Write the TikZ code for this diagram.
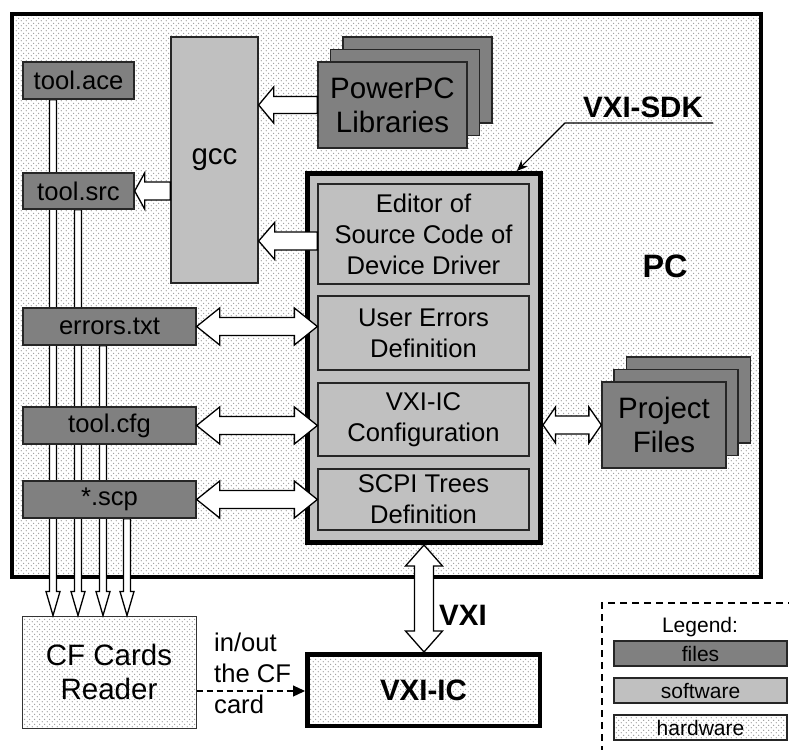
\documentclass[tikz,border=0pt]{standalone}
\usepackage{fontspec}
\setmainfont{Liberation Sans}
\usetikzlibrary{calc,patterns.meta,arrows.meta}

\definecolor{filegray}{HTML}{808080}
\definecolor{softgray}{HTML}{C0C0C0}
\definecolor{dotgray}{HTML}{9A9A9A}

% staggered dot raster used for hardware blocks
\tikzdeclarepattern{
  name=hwdots,
  type=uncolored,
  bounding box={(0pt,0pt) and (5.4pt,5.4pt)},
  tile size={(5.4pt,5.4pt)},
  code={
    \fill (1.35pt,1.35pt) circle (0.75pt);
    \fill (4.05pt,4.05pt) circle (0.75pt);
  }
}

\newcommand\fntbig{\fontsize{29.5pt}{34pt}\selectfont}
\newcommand\fntmid{\fontsize{25.6pt}{31pt}\selectfont}
\newcommand\fntsmall{\fontsize{21pt}{25pt}\selectfont}

% hollow block arrow: from, to, head length, head half width, shaft half width
\newcommand\onearrow[5]{%
  \coordinate (hb) at ($(#2)!#3!(#1)$);
  \draw[hollow] ($(#1)!#5!90:(#2)$) -- ($(hb)!#5!-90:(#1)$) -- ($(hb)!#4!-90:(#1)$)
    -- (#2) -- ($(hb)!#4!90:(#1)$) -- ($(hb)!#5!90:(#1)$) -- ($(#1)!#5!-90:(#2)$) -- cycle;
}
% hollow double-headed block arrow, same arguments
\newcommand\twoarrow[5]{%
  \coordinate (ha) at ($(#1)!#3!(#2)$);
  \coordinate (hb) at ($(#2)!#3!(#1)$);
  \draw[hollow] (#1) -- ($(ha)!#4!90:(#2)$) -- ($(ha)!#5!90:(#2)$) -- ($(hb)!#5!-90:(#1)$)
    -- ($(hb)!#4!-90:(#1)$) -- (#2) -- ($(hb)!#4!90:(#1)$) -- ($(hb)!#5!90:(#1)$)
    -- ($(ha)!#5!-90:(#2)$) -- ($(ha)!#4!-90:(#2)$) -- cycle;
}

\pgfdeclarelayer{back}
\pgfdeclarelayer{mid}
\pgfsetlayers{back,mid,main}

\begin{document}
\begin{tikzpicture}[x=1pt,y=-1pt,
  every node/.style={inner sep=0pt, align=center},
  hw/.style={preaction={fill=white}, pattern=hwdots, pattern color=dotgray},
  filebox/.style={draw=black!85, line width=1.3pt, fill=filegray, font=\fntmid},
  softbox/.style={draw=black!85, line width=1.3pt, fill=softgray},
  hollow/.style={draw=black, fill=white, line width=1.3pt, line join=miter},
  pipe/.style={hollow, line width=1.2pt}
]
\useasboundingbox (0,0) rectangle (789,749);

\begin{pgfonlayer}{back}
  % the PC enclosure
  \node[hw, draw=black, line width=4pt, minimum width=749pt, minimum height=563pt] (pc) at (386.5,295.5) {};
  % CF card reader
  \node[hw, draw=black!80, line width=1pt, minimum width=174pt, minimum height=112pt, font=\fntbig] (cf) at (109,672) {CF Cards\\Reader};
  % target board
  \node[hw, draw=black, line width=4.5pt, minimum width=232.5pt, minimum height=71.5pt, font=\fntbig\bfseries] (vxiic) at (423.5,690) {VXI-IC};
  % legend frame
  \node[draw=black, line width=1.2pt, dash pattern=on 7pt off 5pt, minimum width=198pt, minimum height=157pt] (legend) at (701,681.5) {};
\end{pgfonlayer}

% file boxes
\node[filebox, minimum width=111pt, minimum height=37pt] (ace) at (78.5,80.5) {tool.ace};
\node[filebox, minimum width=111pt, minimum height=36pt] (src) at (78.5,191) {tool.src};
\node[filebox, minimum width=173pt, minimum height=37pt] (errors) at (109.5,326.5) {errors.txt};
\node[filebox, minimum width=173pt, minimum height=37pt] (cfg) at (109.5,425.5) {tool.cfg};
\node[filebox, minimum width=173pt, minimum height=37pt] (scp) at (109.5,499.5) {*.scp};

% compiler
\node[softbox, minimum width=87pt, minimum height=246pt, font=\fntbig] (gcc) at (214.5,160) {gcc};

% library stack
\node[filebox, minimum width=149pt, minimum height=86pt] (ppc3) at (417.5,80) {};
\node[filebox, minimum width=149pt, minimum height=86pt] (ppc2) at (405,92.5) {};
\node[filebox, minimum width=149pt, minimum height=86pt, font=\fntbig] (ppc) at (392.5,105) {PowerPC\\Libraries};

% project files stack
\node[filebox, minimum width=124pt, minimum height=86pt] (pf3) at (688.5,400) {};
\node[filebox, minimum width=124pt, minimum height=86pt] (pf2) at (676,412.5) {};
\node[filebox, minimum width=124pt, minimum height=86pt, font=\fntbig] (pf) at (664,425) {Project\\Files};

% SDK with its sections
\node[fill=softgray, draw=black, line width=5pt, minimum width=233pt, minimum height=369pt] (sdk) at (424,358) {};
\node[softbox, minimum width=211pt, minimum height=100pt, font=\fntmid] (editor) at (423.5,234) {Editor of\\Source Code of\\Device Driver};
\node[softbox, minimum width=211pt, minimum height=74pt, font=\fntmid] (uerr) at (423.5,333) {User Errors\\Definition};
\node[softbox, minimum width=211pt, minimum height=73pt, font=\fntmid] (conf) at (423.5,419.5) {VXI-IC\\Configuration};
\node[softbox, minimum width=211pt, minimum height=61pt, font=\fntmid] (scpi) at (423.5,499.5) {SCPI Trees\\Definition};

% labels
\node[font=\fontsize{32.4pt}{36pt}\selectfont\bfseries] (pclabel) at (665,266) {PC};
\node[font=\fntbig\bfseries] (sdklabel) at (643,107) {VXI-SDK};
\node[font=\fntbig\bfseries] (vxilabel) at (463,615) {VXI};
\node[font=\fntmid, align=left, anchor=west] (cflabel) at (214,673) {in/out\\the CF\\card};
\node[font=\fntsmall] (legtitle) at (700,627) {Legend:};
\node[filebox, font=\fntsmall, minimum width=173pt, minimum height=25pt] (legfiles) at (700.5,653.5) {files};
\node[softbox, font=\fntsmall, minimum width=173pt, minimum height=25pt] (legsoft) at (700.5,690.5) {software};
\node[hw, draw=black!85, line width=1.3pt, font=\fntsmall, minimum width=173pt, minimum height=25pt] (leghard) at (700.5,727.5) {hardware};

% pipes from the files down to the card reader
\coordinate (pA) at (53,0);
\coordinate (pB) at (78,0);
\coordinate (pC) at (103,0);
\coordinate (pD) at (127,0);
\begin{pgfonlayer}{mid}
  \coordinate (a1) at (pA |- ace.south);    \coordinate (a2) at (pA |- cf.north);
  \coordinate (b1) at (pB |- src.south);    \coordinate (b2) at (pB |- cf.north);
  \coordinate (c1) at (pC |- errors.south); \coordinate (c2) at (pC |- cf.north);
  \coordinate (d1) at (pD |- scp.south);    \coordinate (d2) at (pD |- cf.north);
  \onearrow{a1}{a2}{24pt}{7pt}{3.5pt}
  \onearrow{b1}{b2}{24pt}{7pt}{3.5pt}
  \onearrow{c1}{c2}{24pt}{7pt}{3.5pt}
  \onearrow{d1}{d2}{24pt}{7pt}{3.5pt}
\end{pgfonlayer}

% block arrows between the blocks
\coordinate (g1) at (gcc.east |- ppc.west);
\onearrow{ppc.west}{g1}{15pt}{18pt}{8.5pt}
\coordinate (s1) at (gcc.west |- src.east);
\onearrow{s1}{src.east}{10pt}{18pt}{9pt}
\coordinate (e1) at ($(editor.west)+(0,7)$);
\coordinate (e2) at (gcc.east |- e1);
\onearrow{e1}{e2}{16pt}{18.5pt}{9pt}
\coordinate (r1) at (errors.east -| uerr.west);
\twoarrow{errors.east}{r1}{23pt}{18.5pt}{9pt}
\coordinate (k1) at (cfg.east -| conf.west);
\twoarrow{cfg.east}{k1}{23pt}{18.5pt}{9pt}
\coordinate (t1) at (scp.east -| scpi.west);
\twoarrow{scp.east}{t1}{23pt}{18.5pt}{9pt}
\coordinate (p1) at (sdk.east |- pf.west);
\twoarrow{p1}{pf.west}{12.5pt}{18pt}{9pt}
\coordinate (v1) at (sdk.south |- vxiic.north);
\twoarrow{sdk.south}{v1}{21pt}{18.5pt}{9.5pt}

% leader to the SDK block
\coordinate (u1) at (713,123);
\coordinate (u2) at (565,123);
\coordinate (u3) at ($(sdk.north west)!0.89!(sdk.north east)$);
\draw[line width=1.2pt, -{Stealth[length=11pt,width=9pt]}] (u1) -- (u2) -- (u3);

% card transfer
\coordinate (f1) at ($(cf.east)+(0,19)$);
\coordinate (f2) at (vxiic.west |- f1);
\draw[line width=1.2pt, dash pattern=on 6pt off 4pt, -{Triangle[length=12pt,width=11pt]}] (f1) -- (f2);
\end{tikzpicture}
\end{document}
